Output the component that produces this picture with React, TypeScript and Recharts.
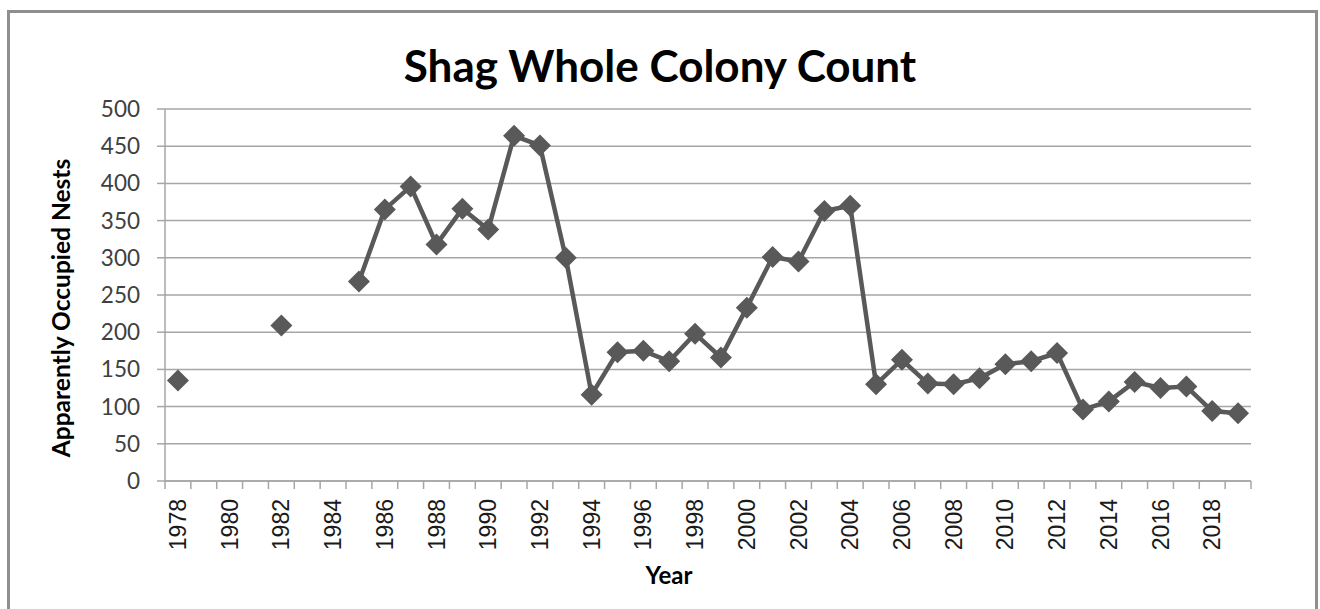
import { CartesianGrid, Line, LineChart, XAxis, YAxis } from "recharts"

// survey years and apparently occupied nests (null = no count that year)
const years = [
  1978, 1979, 1980, 1981, 1982, 1983, 1984, 1985, 1986, 1987, 1988, 1989, 1990, 1991,
  1992, 1993, 1994, 1995, 1996, 1997, 1998, 1999, 2000, 2001, 2002, 2003, 2004, 2005,
  2006, 2007, 2008, 2009, 2010, 2011, 2012, 2013, 2014, 2015, 2016, 2017, 2018, 2019,
]
const nests: (number | null)[] = [
  135, null, null, null, 209, null, null, 268, 365, 396, 318, 366, 338, 464,
  451, 300, 116, 173, 175, 161, 198, 166, 233, 301, 295, 363, 370, 130,
  163, 131, 130, 138, 157, 161, 172, 96, 107, 133, 125, 127, 94, 91,
]
const labelYears = [
  1978, 1980, 1982, 1984, 1986, 1988, 1990, 1992, 1994, 1996, 1998, 2000, 2002, 2004,
  2006, 2008, 2010, 2012, 2014, 2016, 2018,
]
const yTicks = [0, 50, 100, 150, 200, 250, 300, 350, 400, 450, 500]

const data = years.map((year, i) => ({ year, nests: nests[i] }))
// tick marks sit between categories, like the spreadsheet original
const bounds = years.map((y) => y - 0.5).concat(years[years.length - 1] + 0.5)

const W = 1320
const H = 609
const PLOT_LEFT = 165
const PLOT_RIGHT = 1251
const BAND = (PLOT_RIGHT - PLOT_LEFT) / years.length
const GRID = "#a6a6a6"
const INK = "#595959"

function YearTick({ x, y, payload }: any) {
  const year = payload.value + 0.5
  if (!labelYears.includes(year)) return <g />
  return (
    <text
      transform={`translate(${x + BAND / 2 + 8},${y + 8}) rotate(-90)`}
      textAnchor="end"
      fontFamily="'Liberation Sans', Arial, sans-serif"
      fontSize={23}
      fill="#1a1a1a"
    >
      {year}
    </text>
  )
}

function Diamond({ cx, cy, value, index }: any) {
  if (value == null || cx == null || cy == null) return <g key={index} />
  const r = 11
  return (
    <path
      key={index}
      d={`M${cx},${cy - r}L${cx + r},${cy}L${cx},${cy + r}L${cx - r},${cy}Z`}
      fill={INK}
    />
  )
}

export default function App() {
  return (
    <div
      style={{
        position: "absolute",
        left: 0,
        top: 0,
        width: W,
        height: H,
        overflow: "hidden",
        background: "#fff",
        fontFamily: "Lato, sans-serif",
      }}
    >
      <div
        style={{
          position: "absolute",
          left: 7,
          top: 10,
          width: 1311,
          height: 640,
          border: "3px solid #8f8f8f",
          boxSizing: "border-box",
        }}
      />
      <div
        style={{
          position: "absolute",
          left: 0,
          width: W,
          top: 38,
          textAlign: "center",
          fontSize: 44,
          fontWeight: 700,
          lineHeight: "54px",
          color: "#000",
        }}
      >
        Shag Whole Colony Count
      </div>
      <div
        style={{
          position: "absolute",
          left: 60,
          top: 308,
          transform: "translate(-50%, -50%) rotate(-90deg)",
          whiteSpace: "nowrap",
          fontSize: 24.5,
          fontWeight: 700,
          color: "#000",
        }}
      >
        Apparently Occupied Nests
      </div>
      <div
        style={{
          position: "absolute",
          left: 669,
          top: 574,
          transform: "translate(-50%, -50%)",
          fontSize: 24,
          fontWeight: 700,
          color: "#000",
        }}
      >
        Year
      </div>
      <div style={{ position: "absolute", left: 0, top: 0 }}>
        <LineChart
          width={W}
          height={H}
          data={data}
          margin={{ top: 109, right: W - PLOT_RIGHT, bottom: 48, left: 0 }}
        >
          <CartesianGrid vertical={false} stroke={GRID} strokeWidth={1.5} />
          <XAxis
            dataKey="year"
            type="number"
            domain={[bounds[0], bounds[bounds.length - 1]]}
            ticks={bounds}
            interval={0}
            height={80}
            tickSize={8}
            tickLine={{ stroke: GRID, strokeWidth: 1.5 }}
            axisLine={{ stroke: GRID, strokeWidth: 1.5 }}
            tick={<YearTick />}
          />
          <YAxis
            domain={[0, 500]}
            ticks={yTicks}
            interval={0}
            width={PLOT_LEFT}
            tickSize={8}
            tickMargin={17}
            tickLine={{ stroke: GRID, strokeWidth: 1.5 }}
            axisLine={{ stroke: GRID, strokeWidth: 1.5 }}
            tick={{ fill: "#404040", fontSize: 22.5, fontFamily: "Lato, sans-serif" }}
          />
          <Line
            type="linear"
            dataKey="nests"
            stroke={INK}
            strokeWidth={4.5}
            dot={Diamond}
            activeDot={false}
            connectNulls={false}
            isAnimationActive={false}
          />
        </LineChart>
      </div>
    </div>
  )
}
